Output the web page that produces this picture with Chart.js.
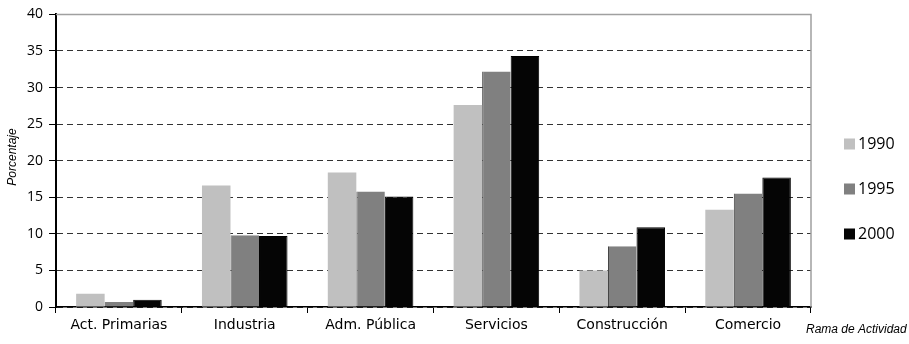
<!DOCTYPE html>
<html>
<head>
<meta charset="utf-8">
<script src="https://cdn.jsdelivr.net/npm/chart.js@4/dist/chart.umd.min.js"></script>
<style>
  html, body { margin: 0; padding: 0; background: #fff; }
  #wrap { width: 909px; height: 344px; position: relative; }
</style>
</head>
<body>
<div id="wrap"><canvas id="ramaChart"></canvas></div>
<script>
// ===== DATA =====
const ramas = ["Act. Primarias", "Industria", "Adm. Pública", "Servicios", "Construcción", "Comercio"];
const anios = ["1990", "1995", "2000"];
const v1990 = [1.8, 16.6, 18.4, 27.6, 5.0, 13.3];
const v1995 = [0.7, 9.8, 15.8, 32.2, 8.3, 15.5];
const v2000 = [1.0, 9.7, 15.1, 34.3, 10.9, 17.7];
const colores = ["#c0c0c0", "#808080", "#050505"];
const yTicks = [0, 5, 10, 15, 20, 25, 30, 35, 40];

// ===== EXTRA DRAWING: frame, titles, legend =====
const extrasPlugin = {
  id: "extras",
  afterDraw(chart) {
    const { ctx, chartArea } = chart;
    ctx.save();
    // top + right frame in gray
    ctx.strokeStyle = "#a0a0a0";
    ctx.lineWidth = 1.5;
    ctx.beginPath();
    ctx.moveTo(chartArea.left, chartArea.top);
    ctx.lineTo(chartArea.right, chartArea.top);
    ctx.lineTo(chartArea.right, chartArea.bottom);
    ctx.stroke();

    // axis titles
    ctx.fillStyle = "#000";
    ctx.font = "italic 12px 'Liberation Sans'";
    ctx.textAlign = "center";
    ctx.textBaseline = "middle";
    ctx.save();
    ctx.translate(13, 157);
    ctx.rotate(-Math.PI / 2);
    ctx.fillText("Porcentaje", 0, 0);
    ctx.restore();
    ctx.textAlign = "left";
    ctx.fillText("Rama de Actividad", 806, 330);

    // legend
    ctx.font = "16px 'Open Sans'";
    anios.forEach((a, i) => {
      const y = 144 + i * 45;
      ctx.fillStyle = colores[i];
      ctx.fillRect(844, y - 5.5, 11, 11);
      ctx.fillStyle = "#000";
      ctx.fillText(a, 858, y);
    });
    ctx.restore();
  },
};

new Chart(document.getElementById("ramaChart").getContext("2d"), {
  type: "bar",
  data: {
    labels: ramas,
    datasets: [
      { label: anios[0], data: v1990, backgroundColor: colores[0] },
      { label: anios[1], data: v1995, backgroundColor: colores[1], borderColor: "#444", borderWidth: { left: 1 } },
      { label: anios[2], data: v2000, backgroundColor: colores[2], borderColor: "#000", borderWidth: 1 },
    ],
  },
  options: {
    responsive: true,
    maintainAspectRatio: false,
    animation: false,
    layout: { padding: { left: 0, right: 98, top: 13, bottom: 0 } },
    datasets: { bar: { barPercentage: 1, categoryPercentage: 0.68 } },
    plugins: { legend: { display: false }, tooltip: { enabled: false } },
    scales: {
      x: {
        grid: { display: true, drawOnChartArea: false, offset: true, tickLength: 6, color: "#000", tickWidth: 1 },
        border: { color: "#000", width: 1.5 },
        ticks: { color: "#000", font: { family: "DejaVu Sans", size: 14 }, padding: 4, maxRotation: 0 },
        afterFit: (s) => { s.height = 37; },
      },
      y: {
        min: 0,
        max: 40,
        afterBuildTicks: (s) => { s.ticks = yTicks.map((v) => ({ value: v })); },
        grid: { color: "#333", lineWidth: 1, tickLength: 7, tickColor: "#000", drawTicks: true },
        border: { color: "#000", width: 2, dash: [6, 4] },
        ticks: { color: "#000", font: { family: "Open Sans", size: 14 }, padding: 6 },
        afterFit: (s) => { s.width = 56; },
      },
    },
  },
  plugins: [extrasPlugin],
});
</script>
</body>
</html>
